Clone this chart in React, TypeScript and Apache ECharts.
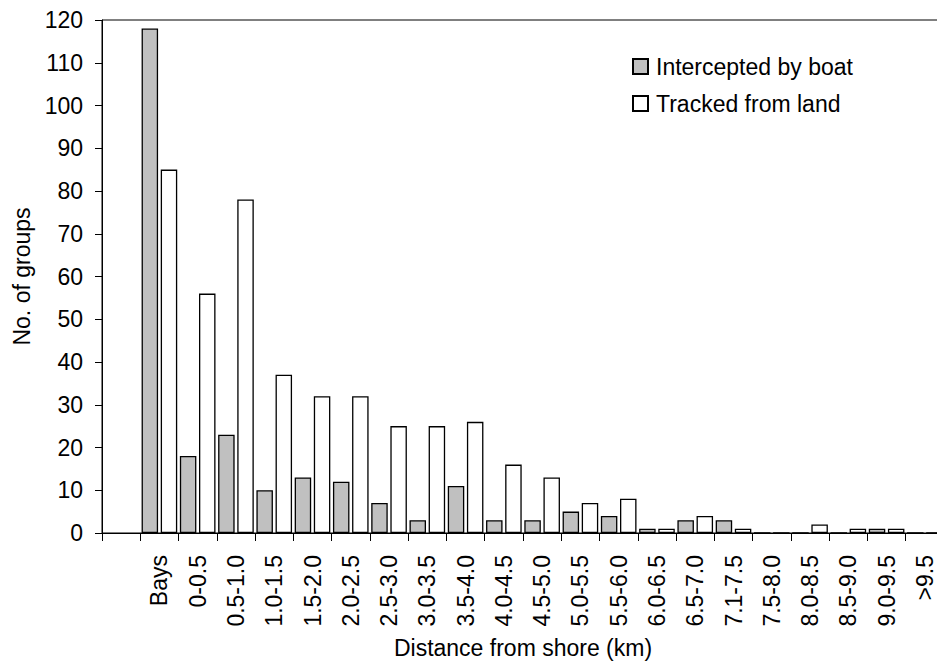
import React, { useEffect, useRef } from "react";
import * as echarts from "echarts";

// Distance classes; the first slot is an empty spacer category
const categories = [
  "", "Bays", "0-0.5", "0.5-1.0", "1.0-1.5", "1.5-2.0", "2.0-2.5", "2.5-3.0",
  "3.0-3.5", "3.5-4.0", "4.0-4.5", "4.5-5.0", "5.0-5.5", "5.5-6.0", "6.0-6.5",
  "6.5-7.0", "7.1-7.5", "7.5-8.0", "8.0-8.5", "8.5-9.0", "9.0-9.5", ">9.5",
];

const interceptedByBoat = [
  null, 118, 18, 23, 10, 13, 12, 7, 3, 11, 3, 3, 5, 4, 1, 3, 3, 0, 0, 0, 1, 0,
];

const trackedFromLand = [
  null, 85, 56, 78, 37, 32, 32, 25, 25, 26, 16, 13, 7, 8, 1, 4, 1, 0, 2, 1, 1, 0,
];

const FONT = "'Liberation Sans', Arial, sans-serif";
const FS = 23;

export default function App() {
  const ref = useRef<HTMLDivElement>(null);

  useEffect(() => {
    if (!ref.current) return;
    const chart = echarts.init(ref.current, undefined, { renderer: "svg" });
    chart.setOption({
      animation: false,
      backgroundColor: "#ffffff",
      textStyle: { fontFamily: FONT, color: "#000" },
      grid: {
        left: 102,
        top: 20,
        right: 0,
        bottom: 129,
        outerBoundsMode: "none",
        containLabel: false,
        show: true,
        borderColor: "#000",
        borderWidth: 1,
        backgroundColor: "transparent",
      },
      legend: {
        orient: "vertical",
        left: 627,
        top: 50,
        itemWidth: 15,
        itemHeight: 15,
        itemGap: 14,
        icon: "rect",
        textStyle: { fontFamily: FONT, fontSize: FS, color: "#000", padding: [0, 0, 0, 3] },
        data: ["Intercepted by boat", "Tracked from land"],
      },
      xAxis: {
        type: "category",
        data: categories,
        boundaryGap: true,
        name: "Distance from shore (km)",
        nameLocation: "middle",
        nameGap: 103,
        nameTextStyle: { fontFamily: FONT, fontSize: FS, color: "#000" },
        axisLine: { show: true, lineStyle: { color: "#000", width: 1 } },
        axisTick: { show: true, length: 8, alignWithLabel: false, interval: 0, lineStyle: { color: "#000" } },
        axisLabel: {
          interval: 0,
          rotate: 90,
          margin: 22,
          fontFamily: FONT,
          fontSize: FS,
          color: "#000",
        },
        splitLine: { show: false },
      },
      yAxis: {
        type: "value",
        min: 0,
        max: 120,
        interval: 10,
        name: "No. of groups",
        nameLocation: "middle",
        nameGap: 68,
        nameRotate: 90,
        nameTextStyle: { fontFamily: FONT, fontSize: FS, color: "#000" },
        axisLine: { show: true, lineStyle: { color: "#000", width: 1 } },
        axisTick: { show: true, length: 7, inside: false, lineStyle: { color: "#000" } },
        axisLabel: { margin: 19, fontFamily: FONT, fontSize: FS, color: "#000" },
        splitLine: { show: false },
      },
      series: [
        {
          name: "Intercepted by boat",
          type: "bar",
          data: interceptedByBoat,
          barWidth: 16.5,
          barGap: "16%",
          itemStyle: { color: "#c0c0c0", borderColor: "#000", borderWidth: 1.3 },
        },
        {
          name: "Tracked from land",
          type: "bar",
          data: trackedFromLand,
          barWidth: 16.5,
          barGap: "16%",
          itemStyle: { color: "#ffffff", borderColor: "#000", borderWidth: 1.3 },
        },
      ],
    });
    return () => chart.dispose();
  }, []);

  // The plot frame runs a little past the right edge, so the chart is wider
  // than its clipping box.
  return (
    <div
      style={{
        position: "fixed",
        left: 0,
        top: 0,
        width: 937,
        height: 662,
        overflow: "hidden",
        background: "#fff",
      }}
    >
      <div ref={ref} style={{ width: 944, height: 662 }} />
    </div>
  );
}
